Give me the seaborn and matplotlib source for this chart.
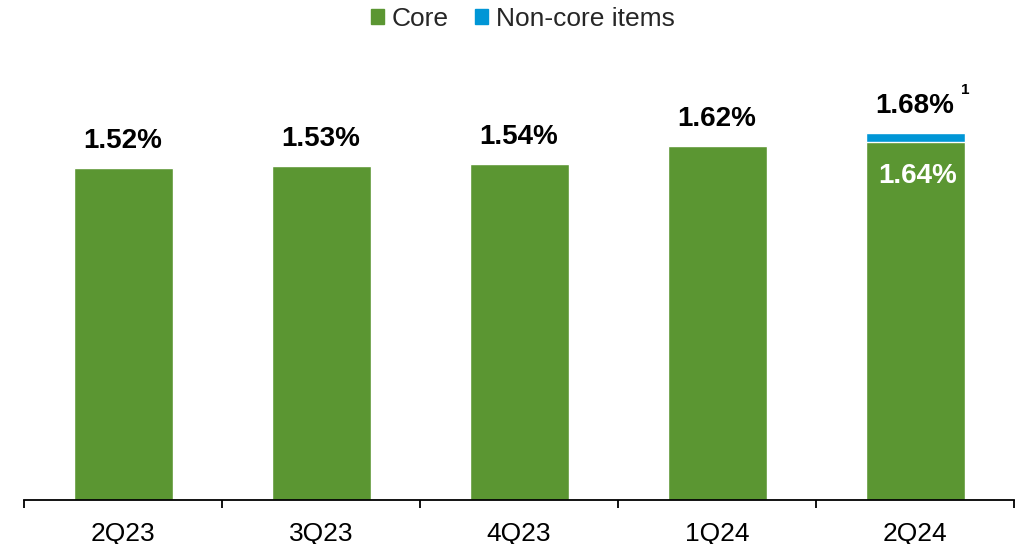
import matplotlib.pyplot as plt
import matplotlib.patches as mpatches
import pandas as pd
import seaborn as sns

quarters = ['2Q23', '3Q23', '4Q23', '1Q24', '2Q24']
core = [1.52, 1.53, 1.54, 1.62, 1.64]
non_core = [0.0, 0.0, 0.0, 0.0, 0.04]
total_labels = ['1.52%', '1.53%', '1.54%', '1.62%', '1.68%']
core_inside_label = '1.64%'

GREEN = '#5B9632'
BLUE = '#0096D6'


def main():
    sns.set_theme(style='white')
    plt.rcParams['font.family'] = ['Liberation Sans', 'DejaVu Sans']

    df = pd.DataFrame({'quarter': quarters, 'core': core,
                       'non_core': non_core})
    df['total'] = df['core'] + df['non_core']

    fig = plt.figure(figsize=(10.21, 5.44), dpi=100)
    ax = fig.add_axes([24 / 1021, 44.5 / 544, 990 / 1021, 436 / 544])

    sns.barplot(data=df, x='quarter', y='total', color=BLUE, width=0.5,
                saturation=1, ax=ax)
    sns.barplot(data=df, x='quarter', y='core', color=GREEN, width=0.5,
                saturation=1, ax=ax)

    ax.set_ylim(0, 2.0)
    ax.set_xlim(-0.5, len(quarters) - 0.5)
    ax.set_xlabel('')
    ax.set_ylabel('')
    ax.set_yticks([])

    # value labels above the bars
    for i, row in df.iterrows():
        ax.annotate(total_labels[i], (i, row['total']),
                    xytext=(0, 10), textcoords='offset points',
                    ha='center', va='bottom', fontsize=20,
                    fontweight='bold', color='black')
    last = len(quarters) - 1
    ax.annotate('1', (last, df['total'][last]), xytext=(36, 26),
                textcoords='offset points', ha='center', va='bottom',
                fontsize=11, fontweight='bold', color='black')
    ax.annotate(core_inside_label, (last, df['core'][last]),
                xytext=(2, -15), textcoords='offset points',
                ha='center', va='top', fontsize=20, fontweight='bold',
                color='white')

    # ticks at category boundaries, labels at centres
    ax.set_xticks([i - 0.5 for i in range(len(quarters) + 1)])
    ax.set_xticklabels([])
    ax.set_xticks(range(len(quarters)), minor=True)
    ax.set_xticklabels(quarters, minor=True, fontsize=19)
    ax.tick_params(axis='x', which='major', direction='out', length=6,
                   width=1.3, color='black', bottom=True)
    ax.tick_params(axis='x', which='minor', length=0, pad=16,
                   labelcolor='black')

    for side in ['top', 'left', 'right']:
        ax.spines[side].set_visible(False)
    ax.spines['bottom'].set_color('black')
    ax.spines['bottom'].set_linewidth(1.3)

    handles = [mpatches.Patch(color=GREEN, label='Core'),
               mpatches.Patch(color=BLUE, label='Non-core items')]
    fig.legend(handles=handles, loc='center', ncol=2, frameon=False,
               bbox_to_anchor=(523 / 1021, 1 - 19 / 544), fontsize=19,
               handlelength=0.5, handleheight=0.5, handletextpad=0.3,
               columnspacing=1.0)

    fig.savefig('out.png', dpi=100)
    plt.close(fig)


if __name__ == '__main__':
    main()
